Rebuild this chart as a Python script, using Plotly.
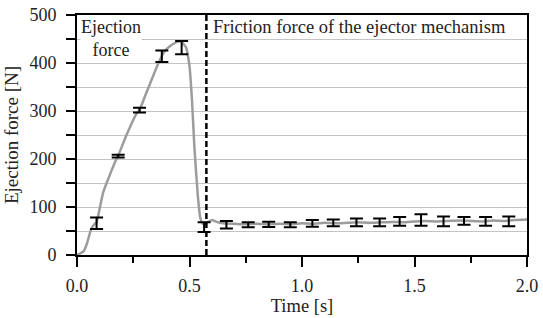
import plotly.graph_objects as go

# Continuous measured curve (time [s], force [N])
curve_t = [0.0, 0.013, 0.03, 0.045, 0.06, 0.075, 0.087, 0.1, 0.116, 0.14, 0.175, 0.183,
           0.22, 0.265, 0.278, 0.31, 0.34, 0.366, 0.39, 0.41, 0.44, 0.462, 0.484, 0.499,
           0.511, 0.522, 0.537, 0.548, 0.559, 0.58, 0.6, 0.62, 0.65, 0.7, 0.75, 0.8, 0.85,
           0.9, 0.95, 1.0, 1.05, 1.1, 1.15, 1.2, 1.25, 1.3, 1.35, 1.4, 1.45, 1.5, 1.55,
           1.6, 1.65, 1.7, 1.75, 1.8, 1.85, 1.9, 1.95, 2.0]
curve_f = [0, 3, 8, 25, 50, 63, 68, 95, 130, 160, 200, 207,
           250, 295, 302, 340, 375, 404, 425, 434, 443, 445, 433, 397,
           323, 223, 123, 77, 65, 68, 73, 69, 66, 65, 64, 65, 64,
           65, 64, 66, 65, 67, 66, 67, 68, 67, 68, 69, 68, 70, 71,
           70, 71, 72, 71, 70, 72, 71, 73, 74]

# Mean values with error bars
bar_t = [0.087, 0.183, 0.278, 0.377, 0.465, 0.565, 0.664, 0.761, 0.852, 0.948,
         1.046, 1.139, 1.242, 1.345, 1.434, 1.529, 1.629, 1.720, 1.816, 1.919]
bar_mean = [66, 206, 302, 414, 432, 58, 63, 63, 64, 63,
            66, 67, 68, 68, 70, 73, 70, 71, 70, 70]
bar_err = [12, 3, 5, 12, 14, 10, 8, 5, 5.5, 5,
           7, 7, 8, 8, 9, 12, 10, 8, 9, 10]

split_t = 0.575
x_ticks = [0.0, 0.5, 1.0, 1.5, 2.0]
y_ticks = [0, 100, 200, 300, 400, 500]

FONT = "Liberation Serif, Times New Roman, serif"
TXT = "#222222"

fig = go.Figure()
fig.add_trace(go.Scatter(x=curve_t, y=curve_f, mode="lines",
                         line=dict(color="#9c9c9c", width=2.5, shape="spline", smoothing=0.4),
                         showlegend=False, hoverinfo="skip"))
fig.add_trace(go.Scatter(x=bar_t, y=bar_mean, mode="markers",
                         marker=dict(size=0.1, color="black", opacity=0),
                         error_y=dict(type="data", array=bar_err, visible=True,
                                      color="black", thickness=2, width=6.5),
                         showlegend=False))
fig.add_trace(go.Scatter(x=[split_t, split_t], y=[0, 500], mode="lines",
                         line=dict(color="black", width=2.5, dash="6px,3px"),
                         showlegend=False, hoverinfo="skip"))

fig.add_annotation(x=0.15, y=452, text="Ejection<br>force", showarrow=False,
                   font=dict(family=FONT, size=18, color=TXT), bgcolor="white",
                   align="center", borderpad=0)
fig.add_annotation(x=1.256, y=476, text="Friction force of the ejector mechanism",
                   showarrow=False, font=dict(family=FONT, size=18.5, color=TXT),
                   bgcolor="white", borderpad=0)

fig.update_layout(
    width=543, height=318,
    margin=dict(l=77, r=13, t=5, b=63),
    plot_bgcolor="white", paper_bgcolor="white",
    font=dict(family=FONT, size=18, color=TXT),
    xaxis=dict(range=[0, 2.0], tickvals=x_ticks, tickformat=".1f",
               showgrid=False, zeroline=False,
               showline=True, linecolor="black", linewidth=2, mirror=True,
               ticks="outside", ticklen=10, tickwidth=2, tickcolor="black",
               ticklabelstandoff=3,
               minor=dict(dtick=0.25, tick0=0, ticks="outside", ticklen=6,
                          tickwidth=2, tickcolor="black", showgrid=False),
               title=dict(text="Time [s]", standoff=4, font=dict(family=FONT, size=18.5))),
    yaxis=dict(range=[0, 500], tickvals=y_ticks, ticklabeloverflow="allow",
               showgrid=True, gridcolor="#c4c4c4", gridwidth=1.2, zeroline=False,
               showline=True, linecolor="black", linewidth=2, mirror=True,
               ticks="outside", ticklen=9, tickwidth=2, tickcolor="black",
               ticklabelstandoff=6,
               minor=dict(dtick=50, tick0=0, ticks="outside", ticklen=9,
                          tickwidth=2, tickcolor="black", showgrid=True,
                          gridcolor="#c4c4c4", gridwidth=1.2),
               title=dict(text="Ejection force [N]", standoff=6, font=dict(family=FONT, size=19))),
)

fig.write_html("out.html")
